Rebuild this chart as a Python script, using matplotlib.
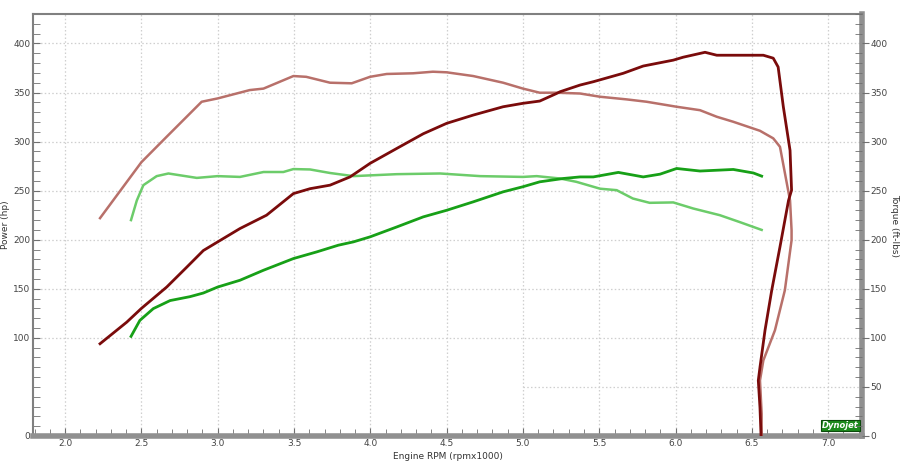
import matplotlib.pyplot as plt
from matplotlib.ticker import MultipleLocator

# Run 1 power (hp) - includes the rundown back to 0
p1_rpm = [2.229, 2.404, 2.50, 2.666, 2.797, 2.906, 3.0, 3.146, 3.32, 3.496, 3.605, 3.736,
          3.867, 3.998, 4.173, 4.347, 4.50, 4.674, 4.87, 5.0, 5.11, 5.22, 5.243, 5.374,
          5.461, 5.657, 5.788, 5.985, 6.05, 6.193, 6.27, 6.42, 6.575, 6.64, 6.672, 6.706,
          6.75, 6.76, 6.74, 6.684, 6.63, 6.586, 6.553, 6.542, 6.553, 6.56]
p1_hp = [94, 116, 130, 151.8, 172, 189, 197.8, 211.4, 225, 247, 252, 255.6,
         264, 277.8, 293, 308, 318.6, 327, 335.5, 339, 341.3, 349, 350.8, 357.6,
         361, 369.6, 377, 383, 386, 391, 388, 388, 388, 385, 376, 335.5,
         291, 250.5, 240, 192.7, 148.5, 107.7, 70, 56.6, 29, 0]

# Run 1 torque (ft-lbs)
t1_rpm = [2.229, 2.50, 2.666, 2.895, 3.0, 3.21, 3.30, 3.496, 3.58, 3.736, 3.878, 3.998,
          4.107, 4.28, 4.41, 4.50, 4.674, 4.87, 5.0, 5.11, 5.22, 5.374, 5.505, 5.68,
          5.81, 6.007, 6.16, 6.27, 6.378, 6.553, 6.64, 6.684, 6.75, 6.76, 6.76, 6.716,
          6.651, 6.575, 6.553, 6.564, 6.564]
t1_tq = [222, 279, 305, 340.6, 344, 352.5, 354, 366.8, 366, 360, 359.4, 366,
         368.9, 369.6, 371.2, 370.6, 366.8, 360, 354, 349.8, 349.8, 349, 345.7, 343,
         340.6, 335.5, 332, 325.3, 320.2, 311, 303.3, 294.7, 240, 209.7, 199.5, 148.5,
         107.7, 77, 56.6, 22.6, 0]

# Run 2 power (hp)
p2_rpm = [2.432, 2.49, 2.578, 2.688, 2.819, 2.906, 3.0, 3.146, 3.30, 3.496, 3.649, 3.79,
          3.889, 3.998, 4.173, 4.347, 4.50, 4.674, 4.87, 5.0, 5.11, 5.264, 5.374, 5.461,
          5.625, 5.788, 5.898, 6.007, 6.16, 6.378, 6.51, 6.564]
p2_hp = [101.5, 117.8, 129.8, 138, 142, 145.7, 151.8, 158.7, 168.9, 180.8, 187.6, 194.4,
         197.8, 202.9, 213, 223.3, 230, 238.6, 248.8, 254, 259, 262.4, 264, 264,
         268.6, 264, 266.8, 272.6, 270, 271.6, 268, 264.8]

# Run 2 torque (ft-lbs)
t2_rpm = [2.432, 2.47, 2.513, 2.60, 2.677, 2.863, 3.0, 3.146, 3.30, 3.43, 3.496, 3.605,
          3.736, 3.889, 4.173, 4.457, 4.72, 5.0, 5.09, 5.243, 5.35, 5.505, 5.614, 5.72,
          5.83, 5.985, 6.116, 6.29, 6.42, 6.564]
t2_tq = [220, 240, 255.6, 264.8, 267.5, 263, 264.8, 264, 269, 269, 272, 271.6,
         268, 264.8, 266.8, 267.5, 264.8, 264, 264.8, 262.4, 259, 252, 250.5, 242,
         237.6, 238, 231.8, 225, 218, 210]

x_ticks = [2.0, 2.5, 3.0, 3.5, 4.0, 4.5, 5.0, 5.5, 6.0, 6.5, 7.0]
y_ticks_left = [0, 100, 150, 200, 250, 300, 350, 400]
y_ticks_right = [0, 50, 100, 150, 200, 250, 300, 350, 400]

fig = plt.figure(figsize=(9, 4.72), dpi=100)
ax = fig.add_axes([0.0367, 0.0763, 0.921, 0.894])
ax.set_xlim(1.79, 7.221)
ax.set_ylim(0, 430)

grid_kw = dict(color='#cfcfcf', linestyle=(0, (1.2, 1.8)), linewidth=0.9, zorder=0)
for x in x_ticks:
    ax.axvline(x, **grid_kw)
for y in [100, 150, 200, 250, 300, 350, 400]:
    ax.axhline(y, **grid_kw)
ax.hlines(50, 5.0, 7.221, **grid_kw)

ax.plot(t1_rpm, t1_tq, color='#b8706a', linewidth=1.8, zorder=3)
ax.plot(t2_rpm, t2_tq, color='#6ccc6a', linewidth=1.8, zorder=3)
ax.plot(p2_rpm, p2_hp, color='#17a017', linewidth=2.0, zorder=4)
ax.plot(p1_rpm, p1_hp, color='#7a0b0b', linewidth=2.0, zorder=5)

# spines
for s in ['top', 'left']:
    ax.spines[s].set_color('#808080')
    ax.spines[s].set_linewidth(1.5)
ax.spines['right'].set_color('#909090')
ax.spines['right'].set_linewidth(4)
ax.spines['bottom'].set_color('#909090')
ax.spines['bottom'].set_linewidth(4)

ax.set_xticks(x_ticks)
ax.set_xticklabels([f'{v:.1f}' for v in x_ticks])
ax.xaxis.set_minor_locator(MultipleLocator(0.1))
ax.tick_params(axis='x', which='both', direction='in', length=6, color='#707070',
               labelsize=6.5, labelcolor='#444444', pad=2)
ax.tick_params(axis='x', which='minor', length=5)

ax.set_yticks(y_ticks_left)
ax.yaxis.set_minor_locator(MultipleLocator(10))
ax.tick_params(axis='y', which='both', direction='in', length=5, color='#707070',
               labelsize=6.5, labelcolor='#444444', pad=2)

ax2 = ax.twinx()
ax2.set_ylim(0, 430)
ax2.set_yticks(y_ticks_right)
ax2.yaxis.set_minor_locator(MultipleLocator(10))
ax2.tick_params(axis='y', which='major', direction='out', length=5, color='#707070',
                labelsize=6.5, labelcolor='#444444', pad=1)
ax2.tick_params(axis='y', which='minor', direction='in', length=5, color='#707070')
for s in ax2.spines.values():
    s.set_visible(False)

ax.set_xlabel('Engine RPM (rpmx1000)', fontsize=6.5, color='#333333', labelpad=3)
ax.set_ylabel('Power (hp)', fontsize=6.5, color='#333333', labelpad=2)
ax2.set_ylabel('Torque (ft-lbs)', fontsize=6.5, color='#333333', rotation=270, labelpad=8)

ax.text(7.08, 6, 'Dynojet', fontsize=6, fontweight='bold', color='white',
        ha='center', va='bottom', style='italic', zorder=6,
        bbox=dict(boxstyle='square,pad=0.15', fc='#1c8a1c', ec='#0c4a0c', lw=0.8))

fig.savefig('out.png', dpi=100)
